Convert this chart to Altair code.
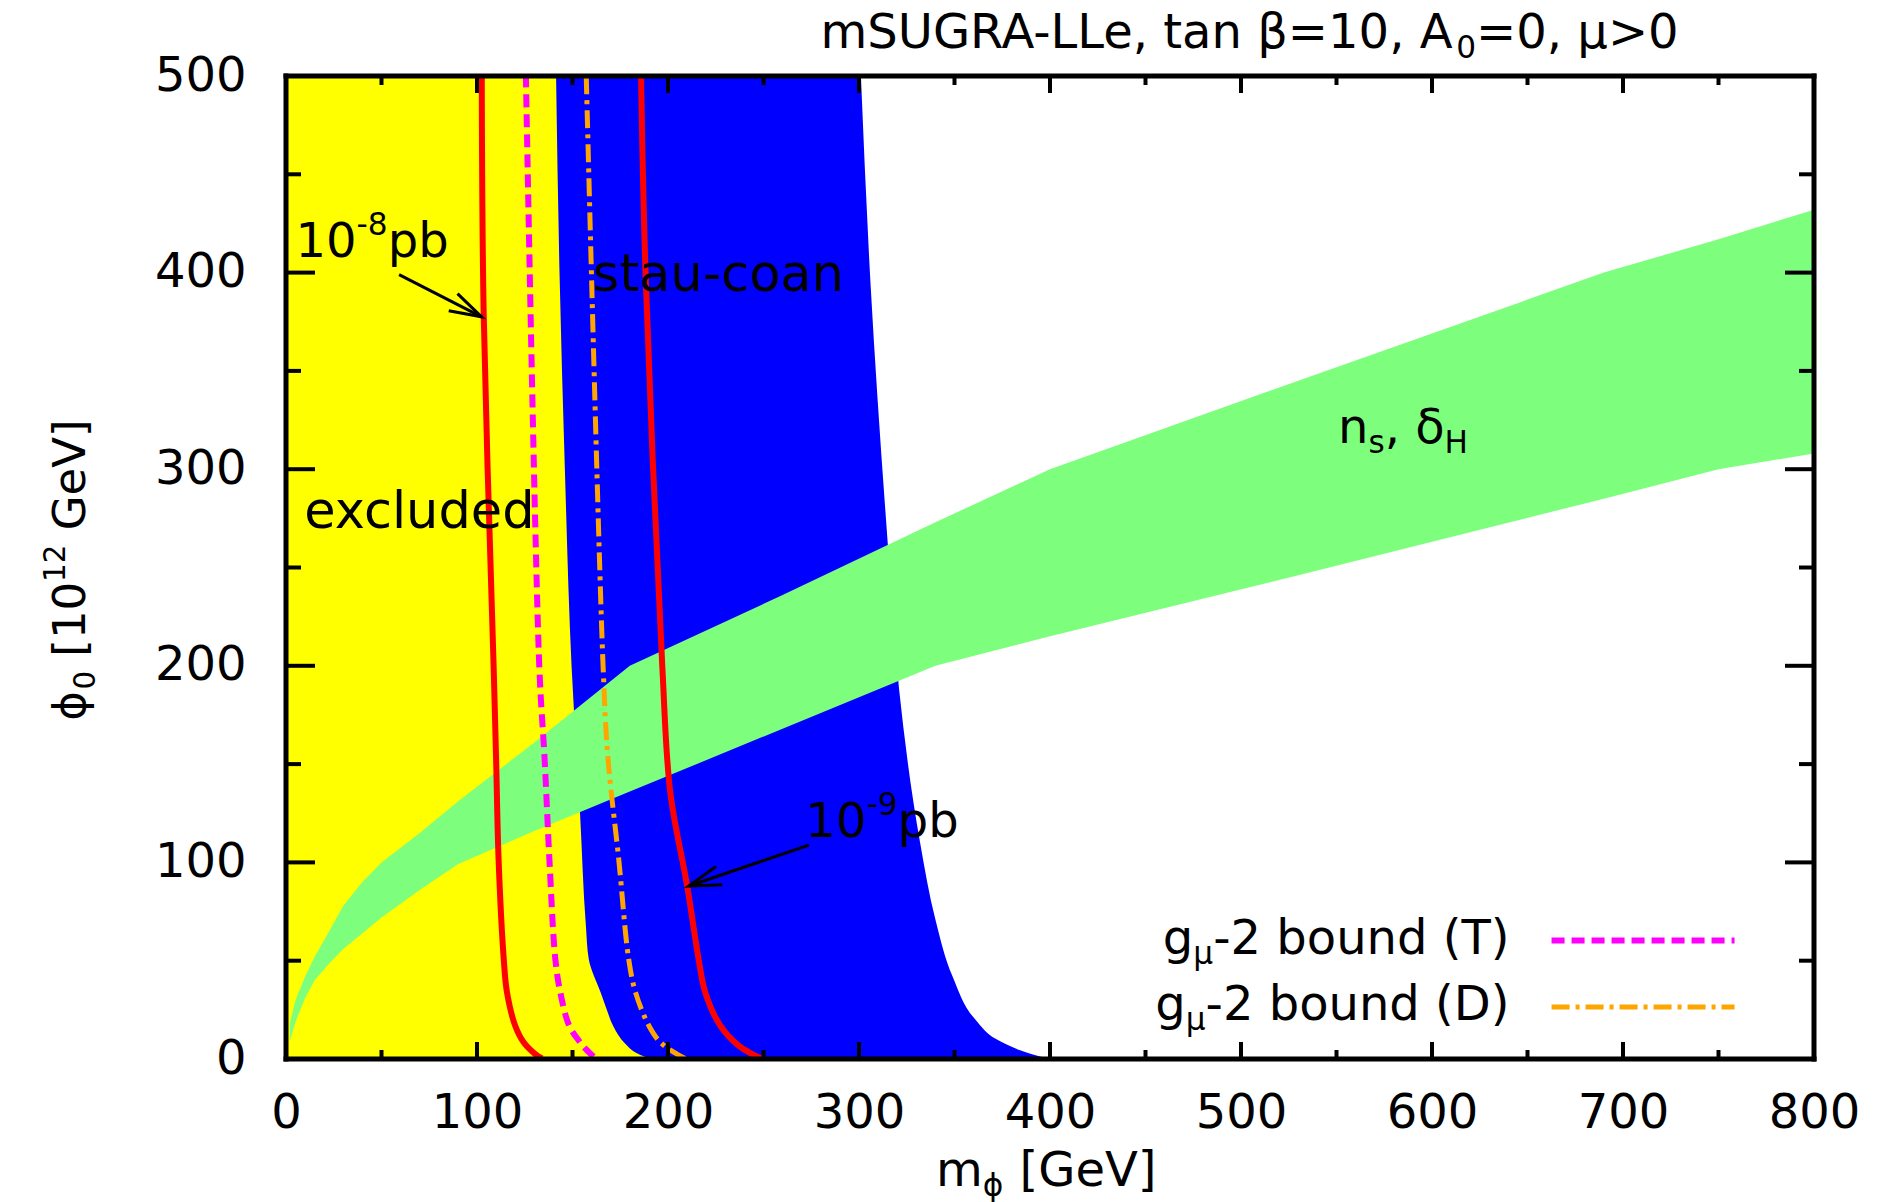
import math
import altair as alt
import pandas as pd

# ---------------- data ----------------
x_major = [0, 100, 200, 300, 400, 500, 600, 700, 800]
x_minor = [50, 150, 250, 350, 450, 550, 650, 750]
y_major = [0, 100, 200, 300, 400, 500]
y_minor = [50, 150, 250, 350, 450]

# green band (n_s, delta_H)
green_x = [2, 5, 10, 15, 22, 30, 40, 50, 70, 90, 130, 180, 260, 340, 400, 530, 690, 750, 800]
green_upper = [18, 30, 42, 52, 64, 78, 90, 100, 115, 131, 161, 200, 236, 273, 300, 345, 400, 417, 432]
green_lower = [9, 19, 31, 40, 48, 56, 64, 72, 86, 99, 116, 136, 168, 200, 215, 246, 285, 300, 308]

# blue (stau-coannihilation) right boundary
blue_y = [0, 2, 4.6, 10, 20, 42, 71, 110, 188, 263, 395, 500]
blue_x = [400, 392, 384, 372, 361, 349, 340, 332, 321, 315, 306, 301]

# yellow (excluded) right boundary
yellow_y = [0, 2.8, 7.9, 16.4, 24.9, 33.9, 50.9, 68, 124, 200, 300, 400, 500]
yellow_x = [191, 184, 177.5, 171.5, 168, 164.7, 158.5, 157, 154, 149.5, 146, 143.2, 141.4]

# 10^-8 pb contour
red8_y = [0.3, 2.5, 8.5, 16.9, 33.9, 50.9, 101.7, 152.6, 200, 379, 500]
red8_x = [134, 130.5, 124.4, 120, 115.7, 114, 111.3, 110, 108.7, 103.5, 102.5]
# 10^-9 pb contour
red9_y = [0.3, 1.7, 6.8, 16.9, 33.9, 50.9, 88.2, 135.6, 200, 398, 500]
red9_x = [249, 245.7, 237, 227.4, 219.5, 216, 210, 201.2, 197, 188.3, 185.9]
# g-2 bound (T)
gT_y = [1.2, 4.5, 8.5, 16.9, 33.9, 50.9, 101.7, 152.6, 200, 500]
gT_x = [161, 157.5, 154, 148.3, 143.6, 141, 137.9, 135.4, 132.6, 125.6]
# g-2 bound (D)
gD_y = [0.3, 2.5, 8.5, 16.9, 33.9, 50.9, 101.7, 152.6, 200, 500]
gD_x = [209, 204.7, 196, 190, 183, 179.4, 174.2, 168.6, 166, 157.2]

# arrows (start -> tip)
arrow_x0 = [59.2, 273.7]
arrow_y0 = [399, 108.8]
arrow_x1 = [102.4, 210.9]
arrow_y1 = [377.5, 88]

# ---------------- layout / style ----------------
W, H = 1528, 983
PX, PY = W / 800, H / 500
FONT = "DejaVu Sans"
FS = 48
C_YELLOW = "#ffff00"
C_BLUE = "#0000ff"
C_GREEN = "#7dff7d"
C_RED = "#ff0000"
C_MAG = "#ff00ff"
C_ORA = "#ffa500"

xs = alt.Scale(domain=[0, 800], nice=False, zero=False)
ys = alt.Scale(domain=[0, 500], nice=False, zero=False)
XAX = alt.Axis(values=x_major, title=None, domain=False, ticks=False, grid=False,
               labelFont=FONT, labelFontSize=FS, labelColor="black",
               labelPadding=30, labelFlush=False, labelOverlap=False, labelBound=False)
YAX = alt.Axis(values=y_major, title=None, domain=False, ticks=False, grid=False,
               labelFont=FONT, labelFontSize=FS, labelColor="black",
               labelPadding=40, labelFlush=False, labelOverlap=False, labelBound=False)


def X(f):
    return alt.X(f, type="quantitative", scale=xs, axis=XAX)


def Y(f):
    return alt.Y(f, type="quantitative", scale=ys, axis=YAX)


layers = []

# blue region (from left edge to right boundary), yellow drawn on top
df_blue = pd.DataFrame({"y": blue_y, "x": blue_x})
layers.append(alt.Chart(df_blue).mark_area(orient="horizontal", color=C_BLUE, opacity=1,
                                           interpolate="monotone")
              .encode(y=Y("y"), x=X("x"), x2=alt.value(0)))
df_yel = pd.DataFrame({"y": yellow_y, "x": yellow_x})
layers.append(alt.Chart(df_yel).mark_area(orient="horizontal", color=C_YELLOW, opacity=1,
                                          interpolate="monotone")
              .encode(y=Y("y"), x=X("x"), x2=alt.value(0)))

# green band
df_green = pd.DataFrame({"x": green_x, "up": green_upper, "lo": green_lower})
layers.append(alt.Chart(df_green).mark_area(color=C_GREEN, opacity=1)
              .encode(x=X("x"), y=Y("up"), y2=alt.Y2("lo")))


def curve(xv, yv, color, dash=None, width=6):
    df = pd.DataFrame({"x": xv, "y": yv})
    kw = dict(color=color, strokeWidth=width, clip=True, interpolate="catmull-rom")
    if dash:
        kw["strokeDash"] = dash
    return alt.Chart(df).mark_line(**kw).encode(x=X("x"), y=Y("y"), order=alt.Order("y:Q"))


layers.append(curve(red8_x, red8_y, C_RED))
layers.append(curve(gT_x, gT_y, C_MAG, dash=[13, 7]))
layers.append(curve(gD_x, gD_y, C_ORA, dash=[18, 6, 4, 6], width=5))
layers.append(curve(red9_x, red9_y, C_RED))

# arrows
df_arr = pd.DataFrame({"x0": arrow_x0, "y0": arrow_y0, "x1": arrow_x1, "y1": arrow_y1})
df_arr["ang"] = [
    (math.degrees(math.atan2((b - a) * PX, (d - c) * PY)) + 360) % 360
    for a, b, c, d in zip(arrow_x0, arrow_x1, arrow_y0, arrow_y1)
]
layers.append(alt.Chart(df_arr).mark_rule(color="black", strokeWidth=3)
              .encode(x=X("x0"), y=Y("y0"), x2=alt.X2("x1"), y2=alt.Y2("y1")))
layers.append(alt.Chart(df_arr).mark_point(shape="M-0.3,1L0,0L0.3,1", filled=False,
                                           color="black", strokeWidth=3, size=4096, opacity=1)
              .encode(x=X("x1"), y=Y("y1"), angle=alt.Angle("ang:Q", scale=None)))

# ---------------- rich text helper (DejaVu Sans advance widths, em) ----------------
CW = {' ': 0.318, '-': 0.361, '(': 0.390, ')': 0.390, ',': 0.318, '=': 0.838, '>': 0.838,
      '[': 0.390, ']': 0.390, 'A': 0.684, 'D': 0.770, 'G': 0.775, 'H': 0.752, 'L': 0.557,
      'R': 0.695, 'S': 0.635, 'T': 0.611, 'U': 0.732, 'V': 0.684, 'a': 0.613, 'b': 0.635,
      'c': 0.550, 'd': 0.635, 'e': 0.615, 'g': 0.635, 'l': 0.278, 'm': 0.974, 'n': 0.634,
      'o': 0.612, 'p': 0.635, 's': 0.521, 't': 0.392, 'u': 0.634, 'x': 0.592,
      'β': 0.636, 'μ': 0.636, 'ϕ': 0.690, 'δ': 0.612}
for d in "0123456789":
    CW[d] = 0.636


def tw(s, size):
    return sum(CW.get(c, 0.65) for c in s) * size


def rich(x, y, pieces, size=FS, align="left", angle=0):
    sizes = [size if k == "n" else size * 0.65 for _, k in pieces]
    widths = [tw(t, s) for (t, _), s in zip(pieces, sizes)]
    total = sum(widths)
    off = {"left": 0, "center": -total / 2, "right": -total}[align]
    df = pd.DataFrame({"x": [x], "y": [y]})
    out = []
    for (t, k), s, w in zip(pieces, sizes, widths):
        lead = len(t) - len(t.lstrip(" "))
        shown = t.strip(" ")
        shift = 0 if k == "n" else (0.21 * size if k == "sub" else -0.46 * size)
        kw = dict(text=shown, align="left", baseline="alphabetic", font=FONT,
                  fontSize=s, dx=off + tw(" " * lead, s), dy=0.365 * size + shift,
                  color="black")
        if angle:
            kw["angle"] = angle
        out.append(alt.Chart(df).mark_text(**kw).encode(x=X("x"), y=Y("y")))
        off += w
    return out


# annotations
layers += rich(5, 416.6, [("10", "n"), ("-8", "sup"), ("pb", "n")])
layers += rich(272, 122, [("10", "n"), ("-9", "sup"), ("pb", "n")])
layers += rich(9.5, 279.7, [("excluded", "n")], size=51)
layers += rich(160.5, 400, [("stau-coan", "n")], size=51)
layers += rich(550.8, 322.2, [("n", "n"), ("s", "sub"), (", δ", "n"), ("H", "sub")])

# title
layers += rich(504.5, 523, [("mSUGRA-LLe, tan β=10, A", "n"), ("0", "sub"), ("=0, μ>0", "n")],
               align="center")
# axis titles
layers += rich(398, -55.5, [("m", "n"), ("ϕ", "sub"), (" [GeV]", "n")], align="center")
layers += rich(-113.6, 248.7, [("ϕ", "n"), ("0", "sub"), (" [10", "n"), ("12", "sup"),
                               (" GeV]", "n")], size=45, align="center", angle=270)

# legend
legend_text_x = [640.6, 640.6]
legend_text_y = [62.3, 28.6]
legend_line_x0 = [662.6, 662.6]
legend_line_x1 = [758.4, 758.4]
legend_line_y = [60.3, 26.4]
layers += rich(legend_text_x[0], legend_text_y[0],
               [("g", "n"), ("μ", "sub"), ("-2 bound (T)", "n")], align="right")
layers += rich(legend_text_x[1], legend_text_y[1],
               [("g", "n"), ("μ", "sub"), ("-2 bound (D)", "n")], align="right")
df_l1 = pd.DataFrame({"x0": [legend_line_x0[0]], "x1": [legend_line_x1[0]], "y": [legend_line_y[0]]})
df_l2 = pd.DataFrame({"x0": [legend_line_x0[1]], "x1": [legend_line_x1[1]], "y": [legend_line_y[1]]})
layers.append(alt.Chart(df_l1).mark_rule(color=C_MAG, strokeWidth=6, strokeDash=[13, 7])
              .encode(x=X("x0"), x2=alt.X2("x1"), y=Y("y")))
layers.append(alt.Chart(df_l2).mark_rule(color=C_ORA, strokeWidth=5, strokeDash=[18, 6, 4, 6])
              .encode(x=X("x0"), x2=alt.X2("x1"), y=Y("y")))

# inward ticks on all four sides
df_xM = pd.DataFrame({"v": x_major})
df_xm = pd.DataFrame({"v": x_minor})
df_yM = pd.DataFrame({"v": y_major})
df_ym = pd.DataFrame({"v": y_minor})
TK = dict(color="black", strokeWidth=4)
layers.append(alt.Chart(df_xM).mark_rule(**TK).encode(x=X("v"), y=alt.value(H), y2=alt.value(H - 17)))
layers.append(alt.Chart(df_xm).mark_rule(**TK).encode(x=X("v"), y=alt.value(H), y2=alt.value(H - 9)))
layers.append(alt.Chart(df_xM).mark_rule(**TK).encode(x=X("v"), y=alt.value(0), y2=alt.value(17)))
layers.append(alt.Chart(df_xm).mark_rule(**TK).encode(x=X("v"), y=alt.value(0), y2=alt.value(9)))
layers.append(alt.Chart(df_yM).mark_rule(**TK).encode(y=Y("v"), x=alt.value(0), x2=alt.value(29)))
layers.append(alt.Chart(df_ym).mark_rule(**TK).encode(y=Y("v"), x=alt.value(0), x2=alt.value(15)))
layers.append(alt.Chart(df_yM).mark_rule(**TK).encode(y=Y("v"), x=alt.value(W), x2=alt.value(W - 29)))
layers.append(alt.Chart(df_ym).mark_rule(**TK).encode(y=Y("v"), x=alt.value(W), x2=alt.value(W - 15)))

# frame
FR = dict(color="black", strokeWidth=5, strokeCap="square")
layers.append(alt.Chart(df_xM.head(1)).mark_rule(**FR).encode(x=alt.value(0), y=alt.value(0), y2=alt.value(H)))
layers.append(alt.Chart(df_xM.head(1)).mark_rule(**FR).encode(x=alt.value(W), y=alt.value(0), y2=alt.value(H)))
layers.append(alt.Chart(df_xM.head(1)).mark_rule(**FR).encode(y=alt.value(0), x=alt.value(0), x2=alt.value(W)))
layers.append(alt.Chart(df_xM.head(1)).mark_rule(**FR).encode(y=alt.value(H), x=alt.value(0), x2=alt.value(W)))

chart = alt.layer(*layers).properties(
    width=W, height=H,
    padding={"left": 286, "top": 76, "right": 84, "bottom": 143},
    autosize=alt.AutoSizeParams(type="none"),
    background="white",
).configure_view(stroke=None)

chart.save("out.html", embed_options={"renderer": "svg", "actions": False})
